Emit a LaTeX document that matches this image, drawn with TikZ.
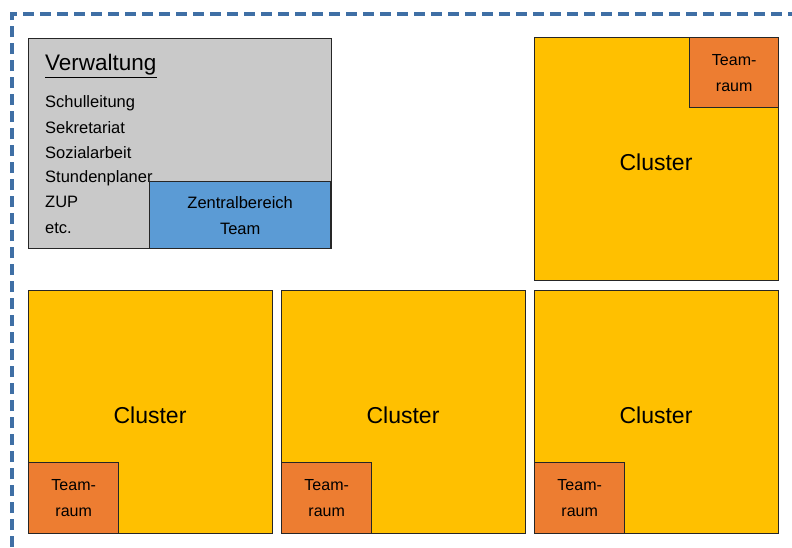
\documentclass[tikz,border=0pt]{standalone}
\usepackage{fontspec}
\setmainfont{Liberation Sans}
\definecolor{gold}{HTML}{FFC000}
\definecolor{teamor}{HTML}{ED7D31}
\definecolor{zblue}{HTML}{5B9BD5}
\definecolor{vgray}{HTML}{C9C9C9}
\definecolor{dashblue}{HTML}{3F6FA5}
\begin{document}
\begin{tikzpicture}[x=1pt,y=-1pt,
  box/.style={draw=black!85,line width=1.4pt,inner sep=0pt,anchor=north west},
  cluster/.style={box,fill=gold,minimum width=244pt,minimum height=243pt},
  team/.style={box,fill=teamor,minimum width=90pt,minimum height=71pt,align=center,font=\fontsize{16}{26}\selectfont},
  listtxt/.style={anchor=west,inner sep=0pt,font=\fontsize{16.5}{20}\selectfont},
  bigtxt/.style={font=\fontsize{23}{26}\selectfont}]
\useasboundingbox (0,0) rectangle (792,547);
\fill[white] (0,0) rectangle (792,547);
\draw[dashblue,line width=3.5pt,dash pattern=on 11pt off 6pt] (12,547) -- (12,14) -- (792,14);
% Verwaltung
\node[box,fill=vgray,minimum width=303pt,minimum height=210pt] (verw) at (28,38) {};
\node[anchor=west,inner sep=0pt,font=\fontsize{22.5}{26}\selectfont] (vtitle) at (45,66) {\underline{Verwaltung}};
\node[listtxt] (l1) at (45,103) {Schulleitung};
\node[listtxt] (l2) at (45,128) {Sekretariat};
\node[listtxt] (l3) at (45,153) {Sozialarbeit};
\node[listtxt] (l4) at (45,178) {Stundenplaner};
\node[listtxt] (l5) at (45,202) {ZUP};
\node[listtxt] (l6) at (45,228) {etc.};
\node[box,fill=zblue,minimum width=181pt,minimum height=67pt,align=center,font=\fontsize{16.5}{26}\selectfont] (zb) at (149,181) {Zentralbereich\\Team};
% Clusters
\node[cluster] (c1) at (534,37) {};
\node[bigtxt] (c1t) at (656,162) {Cluster};
\node[team,minimum width=89pt,minimum height=70pt] (t1) at (689,37) {Team-\\raum};
\node[cluster] (c2) at (28,290) {};
\node[bigtxt] (c2t) at (150,415) {Cluster};
\node[team] (t2) at (28,462) {Team-\\raum};
\node[cluster] (c3) at (281,290) {};
\node[bigtxt] (c3t) at (403,415) {Cluster};
\node[team] (t3) at (281,462) {Team-\\raum};
\node[cluster] (c4) at (534,290) {};
\node[bigtxt] (c4t) at (656,415) {Cluster};
\node[team] (t4) at (534,462) {Team-\\raum};
\end{tikzpicture}
\end{document}
